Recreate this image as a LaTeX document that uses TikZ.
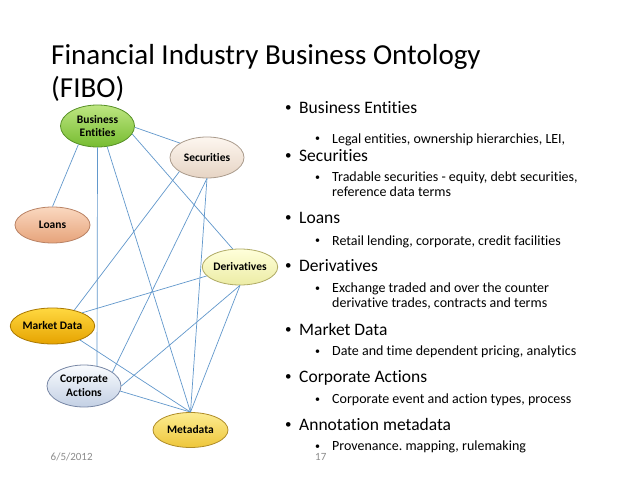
\documentclass[tikz,border=0pt]{standalone}
\usepackage{fontspec}
\setmainfont{Carlito}[Ligatures={NoCommon,NoRare,NoContextual}]
\usetikzlibrary{shapes.geometric}
\tikzset{>=stealth}
\frenchspacing

\definecolor{linkblue}{RGB}{98,152,204}
\definecolor{footgray}{RGB}{140,140,140}
\definecolor{beTop}{RGB}{190,230,130}   \definecolor{beBot}{RGB}{118,188,48}   \definecolor{beLine}{RGB}{88,145,40}
\definecolor{secTop}{RGB}{253,246,239}  \definecolor{secBot}{RGB}{230,212,196} \definecolor{secLine}{RGB}{170,155,140}
\definecolor{loTop}{RGB}{250,216,192}   \definecolor{loBot}{RGB}{230,163,122}  \definecolor{loLine}{RGB}{185,130,100}
\definecolor{deTop}{RGB}{255,255,218}   \definecolor{deBot}{RGB}{236,236,165}  \definecolor{deLine}{RGB}{175,170,100}
\definecolor{mdTop}{RGB}{255,216,64}    \definecolor{mdBot}{RGB}{230,163,0}    \definecolor{mdLine}{RGB}{170,120,0}
\definecolor{caTop}{RGB}{249,251,254}   \definecolor{caBot}{RGB}{195,208,228}  \definecolor{caLine}{RGB}{120,135,165}
\definecolor{meTop}{RGB}{252,236,145}   \definecolor{meBot}{RGB}{238,198,58}   \definecolor{meLine}{RGB}{175,140,40}

\newcommand{\bigdot}{\makebox[14pt][l]{\raisebox{0.1em}{\fontsize{13}{13}\selectfont•}}}
\newcommand{\smalldot}{\makebox[17pt][l]{\raisebox{0.1em}{\fontsize{10}{10}\selectfont•}}}

\tikzset{
  bubble/.style n args={3}{ellipse, inner sep=0pt, minimum width=74pt, minimum height=38pt,
    top color=#1, bottom color=#2, draw=#3, line width=0.8pt, align=center,
    font=\fontsize{11.5}{13.5}\selectfont\bfseries},
  link/.style={linkblue, line width=0.7pt},
  head/.style={anchor=base west, inner sep=0pt, font=\fontsize{17.5}{19}\selectfont},
  detail/.style={anchor=base west, inner sep=0pt, font=\fontsize{14}{15}\selectfont},
  foot/.style={anchor=base west, inner sep=0pt, text=footgray, font=\fontsize{11}{12}\selectfont}
}

\begin{document}
\begin{tikzpicture}[x=1pt, y=-1pt]
\useasboundingbox[fill=white] (0,0) rectangle (638,479);

% title
\node[anchor=base west, inner sep=0pt, font=\fontsize{29}{34}\selectfont] (title1) at (51,64) {Financial Industry Business Ontology};
\node[anchor=base west, inner sep=0pt, font=\fontsize{29}{34}\selectfont] (title2) at (51,97.5) {(FIBO)};

% ontology bubbles
\node[bubble={beTop}{beBot}{beLine}, minimum height=42pt] (be) at (97.5,126) {Business\\Entities};
\node[bubble={secTop}{secBot}{secLine}, minimum height=41pt] (sec) at (207,157.5) {Securities};
\node[bubble={loTop}{loBot}{loLine}, minimum width=75pt, minimum height=36pt] (loans) at (52.5,225) {Loans};
\node[bubble={deTop}{deBot}{deLine}, minimum height=36pt] (deriv) at (240,267) {Derivatives};
\node[bubble={mdTop}{mdBot}{mdLine}, minimum width=75pt, minimum height=36pt] (mkt) at (52.5,326) {Market Data};
\node[bubble={caTop}{caBot}{caLine}, minimum height=42pt] (corp) at (84,386) {Corporate\\Actions};
\node[bubble={meTop}{meBot}{meLine}, minimum width=75pt, minimum height=35pt] (meta) at (190.5,430) {Metadata};

% relations
\draw[link] (be.-2) -- (sec.152);
\draw[link] (be.224) -- (loans.north);
\draw[link] (be.south) -- (corp.57);
\draw[link] (be.-65) -- (meta.north);
\draw[link] (be.-13) -- (deriv.112);
\draw[link] (sec.207) -- (mkt.36);
\draw[link] (sec.south) -- (corp.26);
\draw[link] (sec.south) -- (meta.north);
\draw[link] (deriv.195) -- (mkt.24);
\draw[link] (deriv.south) -- (corp.east);
\draw[link] (deriv.south) -- (meta.north);
\draw[link] (mkt.-27) -- (meta.north);
\draw[link] (corp.-8) -- (meta.north);

% bullet list
\node[head] (h1) at (285,113) {\bigdot Business Entities};
\node[detail] (d1) at (315,143) {\smalldot Legal entities, ownership hierarchies, LEI,};
\node[head] (h2) at (285,161.5) {\bigdot Securities};
\node[detail] (d2) at (315,181.5) {\smalldot Tradable securities - equity, debt securities,};
\node[detail] (d2b) at (332,196) {reference data terms};
\node[head] (h3) at (285,223) {\bigdot Loans};
\node[detail] (d3) at (315,245) {\smalldot Retail lending, corporate, credit facilities};
\node[head] (h4) at (285,271.5) {\bigdot Derivatives};
\node[detail] (d4) at (315,292.5) {\smalldot Exchange traded and over the counter};
\node[detail] (d4b) at (332,307.5) {derivative trades, contracts and terms};
\node[head] (h5) at (285,335) {\bigdot Market Data};
\node[detail] (d5) at (315,355.5) {\smalldot Date and time dependent pricing, analytics};
\node[head] (h6) at (285,382.5) {\bigdot Corporate Actions};
\node[detail] (d6) at (315,403.5) {\smalldot Corporate event and action types, process};
\node[head] (h7) at (285,430.5) {\bigdot Annotation metadata};
\node[detail] (d7) at (315,450.5) {\smalldot Provenance. mapping, rulemaking};

% footer
\node[foot] (date) at (50.5,460) {6/5/2012};
\node[foot] (page) at (315,460) {17};
\end{tikzpicture}
\end{document}
